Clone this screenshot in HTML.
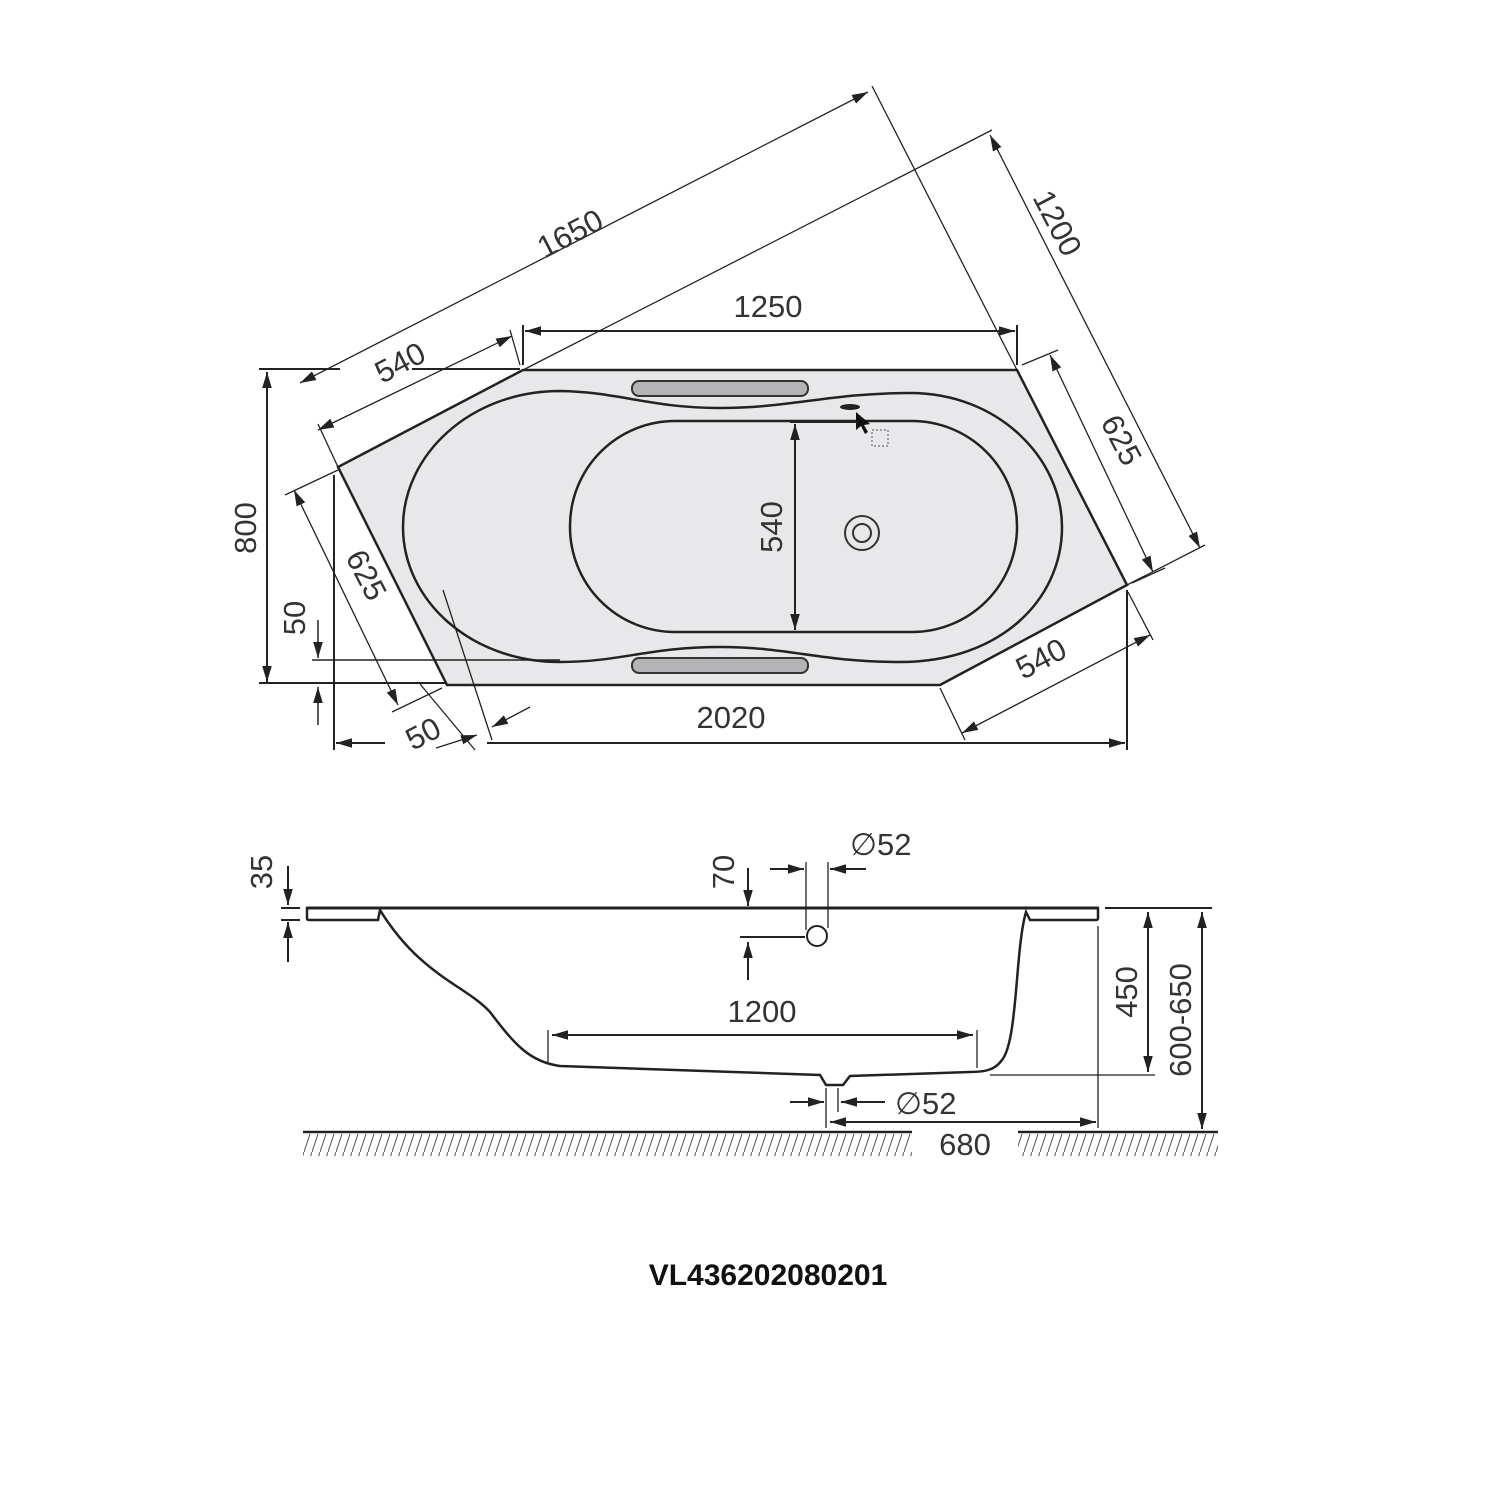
<!DOCTYPE html>
<html><head><meta charset="utf-8"><style>
html,body{margin:0;padding:0;background:#fff;width:1500px;height:1500px;overflow:hidden}
svg{display:block}
text{font-family:"Liberation Sans",sans-serif;fill:#333;font-size:31px}
</style></head><body>
<svg width="1500" height="1500" viewBox="0 0 1500 1500" xmlns="http://www.w3.org/2000/svg">
<defs>
<marker id="a" viewBox="0 0 10 10" refX="10" refY="5" markerWidth="16" markerHeight="16" markerUnits="userSpaceOnUse" orient="auto-start-reverse"><path d="M0,2 L10,5 L0,8 z" fill="#222"/></marker>
<pattern id="h" width="8" height="24" patternUnits="userSpaceOnUse"><line x1="8" y1="0" x2="0" y2="24" stroke="#555" stroke-width="1"/></pattern>
</defs>
<polygon points="523,370 1017,370 1127,585 940,685 447,685 338,467" fill="#e8e8ea" stroke="#222" stroke-width="2.5"/>
<path d="M560,391 C620,392 650,408 720,408 C790,408 830,393 910,393 C1000,393 1062,460 1062,527 C1062,600 1000,662 900,662 C820,662 790,647 720,647 C650,647 620,662 560,662 C470,662 403,600 403,527 C403,455 470,391 560,391 Z" fill="none" stroke="#222" stroke-width="2.5"/>
<rect x="570" y="421" width="447" height="211" rx="105" fill="none" stroke="#222" stroke-width="2.5"/>
<rect x="632" y="381" width="176" height="15" rx="7" fill="#b4b4b6" stroke="#333" stroke-width="2"/>
<rect x="632" y="658" width="176" height="15" rx="7" fill="#b4b4b6" stroke="#333" stroke-width="2"/>
<ellipse cx="850" cy="407" rx="10" ry="3" fill="#222"/>
<circle cx="862" cy="533" r="17" fill="none" stroke="#333" stroke-width="2"/>
<circle cx="862" cy="533" r="9" fill="none" stroke="#333" stroke-width="2"/>
<path d="M856,412 L856,430 L861,426 L865,434 L868,432 L864,425 L870,424 Z" fill="#111"/>
<rect x="872" y="430" width="16" height="16" fill="none" stroke="#555" stroke-dasharray="2,2"/>
<g stroke="#222" stroke-width="1.3" fill="none">
<line x1="300" y1="383" x2="868" y2="92" marker-start="url(#a)" marker-end="url(#a)"/>
<line x1="1017" y1="370" x2="872" y2="86"/>
<line x1="338" y1="467" x2="318" y2="424"/>
<line x1="523" y1="370" x2="992" y2="130"/>
<line x1="318" y1="430" x2="512" y2="336" marker-start="url(#a)" marker-end="url(#a)"/>
<line x1="510" y1="330" x2="520" y2="365"/>
<line x1="990" y1="135" x2="1200" y2="548" marker-start="url(#a)" marker-end="url(#a)"/>
<line x1="1127" y1="585" x2="1205" y2="545"/>
<line x1="525" y1="331" x2="1015" y2="331" stroke-width="2" marker-start="url(#a)" marker-end="url(#a)"/>
<line x1="523" y1="325" x2="523" y2="365" stroke-width="2"/>
<line x1="1017" y1="325" x2="1017" y2="365" stroke-width="2"/>
<line x1="1050" y1="355" x2="1153" y2="572" marker-start="url(#a)" marker-end="url(#a)"/>
<line x1="1022" y1="365" x2="1058" y2="350"/>
<line x1="1132" y1="583" x2="1165" y2="568"/>
<line x1="267" y1="372" x2="267" y2="682" stroke-width="2" marker-start="url(#a)" marker-end="url(#a)"/>
<line x1="259" y1="369" x2="340" y2="369" stroke-width="2"/>
<line x1="412" y1="369" x2="520" y2="369" stroke-width="2"/>
<line x1="259" y1="683" x2="445" y2="683" stroke-width="2"/>
<line x1="294" y1="490" x2="398" y2="705" marker-start="url(#a)" marker-end="url(#a)"/>
<line x1="338" y1="470" x2="285" y2="495"/>
<line x1="442" y1="688" x2="392" y2="712"/>
<line x1="318" y1="620" x2="318" y2="658" stroke-width="1.5" marker-end="url(#a)"/>
<line x1="318" y1="725" x2="318" y2="687" stroke-width="1.5" marker-end="url(#a)"/>
<line x1="312" y1="660" x2="560" y2="660" stroke-width="1.5"/>
<line x1="334" y1="475" x2="334" y2="750" stroke-width="2"/>
<line x1="1127" y1="590" x2="1127" y2="750" stroke-width="2"/>
<line x1="385" y1="743" x2="336" y2="743" stroke-width="2" marker-end="url(#a)"/>
<line x1="487" y1="743" x2="1125" y2="743" stroke-width="2" marker-end="url(#a)"/>
<line x1="420" y1="684" x2="475" y2="750"/>
<line x1="443" y1="590" x2="492" y2="740"/>
<line x1="436" y1="748" x2="477" y2="735" marker-end="url(#a)"/>
<line x1="530" y1="707" x2="492" y2="727" marker-end="url(#a)"/>
<line x1="962" y1="733" x2="1150" y2="635" marker-start="url(#a)" marker-end="url(#a)"/>
<line x1="940" y1="688" x2="965" y2="740"/>
<line x1="1128" y1="592" x2="1153" y2="640"/>
<line x1="795" y1="424" x2="795" y2="630" stroke-width="2" marker-start="url(#a)" marker-end="url(#a)"/>
<line x1="790" y1="422" x2="858" y2="422" stroke-width="2"/>
</g>
<text x="0" y="0" transform="translate(575,243) rotate(-27.5)" text-anchor="middle">1650</text>
<text x="0" y="0" transform="translate(405,372) rotate(-27.5)" text-anchor="middle">540</text>
<text x="0" y="0" transform="translate(1048,228) rotate(62.5)" text-anchor="middle">1200</text>
<text x="768" y="317" text-anchor="middle">1250</text>
<text x="0" y="0" transform="translate(1112,445) rotate(62.5)" text-anchor="middle">625</text>
<text x="0" y="0" transform="translate(256,528) rotate(-90)" text-anchor="middle">800</text>
<text x="0" y="0" transform="translate(357,580) rotate(62.5)" text-anchor="middle">625</text>
<text x="0" y="0" transform="translate(305,618) rotate(-90)" text-anchor="middle">50</text>
<text x="0" y="0" transform="translate(428,743) rotate(-27.5)" text-anchor="middle">50</text>
<text x="731" y="728" text-anchor="middle">2020</text>
<text x="0" y="0" transform="translate(1046,668) rotate(-27.5)" text-anchor="middle">540</text>
<text x="0" y="0" transform="translate(782,527) rotate(-90)" text-anchor="middle">540</text>
<path d="M307,908 L1098,908 L1098,918 Q1098,920 1096,920 L1030,920 L1026,912 C1015,950 1018,1040 1002,1060 C995,1070 985,1072 970,1072 L850,1076 L843,1085 L826,1085 L820,1075 L560,1066 C530,1062 515,1045 490,1012 C465,985 420,975 380,910 L378,920 L309,920 Q307,920 307,918 Z" fill="#fff" stroke="#222" stroke-width="2.5"/>
<line x1="307" y1="908" x2="1098" y2="908" stroke="#222" stroke-width="3"/>
<circle cx="817" cy="936" r="10" fill="#fff" stroke="#222" stroke-width="2"/>
<g stroke="#222" stroke-width="2" fill="none">
<line x1="288" y1="866" x2="288" y2="905" marker-end="url(#a)"/>
<line x1="288" y1="962" x2="288" y2="922" marker-end="url(#a)"/>
<line x1="281" y1="908" x2="300" y2="908"/>
<line x1="281" y1="920" x2="300" y2="920"/>
<line x1="748" y1="868" x2="748" y2="906" marker-end="url(#a)"/>
<line x1="748" y1="980" x2="748" y2="942" marker-end="url(#a)"/>
<line x1="740" y1="937" x2="805" y2="937"/>
<line x1="806" y1="862" x2="806" y2="930" stroke-width="1.3"/>
<line x1="828" y1="862" x2="828" y2="928" stroke-width="1.3"/>
<line x1="770" y1="869" x2="804" y2="869" marker-end="url(#a)"/>
<line x1="866" y1="869" x2="830" y2="869" marker-end="url(#a)"/>
<line x1="552" y1="1035" x2="973" y2="1035" marker-start="url(#a)" marker-end="url(#a)"/>
<line x1="548" y1="1030" x2="548" y2="1062" stroke-width="1.3"/>
<line x1="977" y1="1030" x2="977" y2="1068" stroke-width="1.3"/>
<line x1="990" y1="1075" x2="1155" y2="1075" stroke-width="1.3"/>
<line x1="1105" y1="908" x2="1212" y2="908"/>
<line x1="1148" y1="912" x2="1148" y2="1072" marker-start="url(#a)" marker-end="url(#a)"/>
<line x1="1202" y1="912" x2="1202" y2="1129" marker-start="url(#a)" marker-end="url(#a)"/>
<line x1="1098" y1="926" x2="1098" y2="1128" stroke-width="1.3"/>
<line x1="826" y1="1088" x2="826" y2="1128" stroke-width="1.3"/>
<line x1="838" y1="1088" x2="838" y2="1112" stroke-width="1.3"/>
<line x1="790" y1="1102" x2="824" y2="1102" marker-end="url(#a)"/>
<line x1="885" y1="1102" x2="841" y2="1102" marker-end="url(#a)"/>
<line x1="830" y1="1122" x2="1096" y2="1122" marker-start="url(#a)" marker-end="url(#a)"/>
<line x1="303" y1="1132" x2="912" y2="1132" stroke-width="2.5"/>
<line x1="1018" y1="1132" x2="1218" y2="1132" stroke-width="2.5"/>
</g>
<rect x="303" y="1134" width="609" height="22" fill="url(#h)"/>
<rect x="1018" y="1134" width="200" height="22" fill="url(#h)"/>
<text x="0" y="0" transform="translate(272,872) rotate(-90)" text-anchor="middle">35</text>
<text x="0" y="0" transform="translate(734,872) rotate(-90)" text-anchor="middle">70</text>
<text x="850" y="855">∅52</text>
<text x="762" y="1022" text-anchor="middle">1200</text>
<text x="0" y="0" transform="translate(1137,992) rotate(-90)" text-anchor="middle">450</text>
<text x="0" y="0" transform="translate(1191,1020) rotate(-90)" text-anchor="middle">600-650</text>
<text x="895" y="1114">∅52</text>
<text x="965" y="1155" text-anchor="middle">680</text>
<text x="768" y="1285" text-anchor="middle" style="font-weight:bold;fill:#111;font-size:30px">VL436202080201</text>
</svg>
</body></html>
